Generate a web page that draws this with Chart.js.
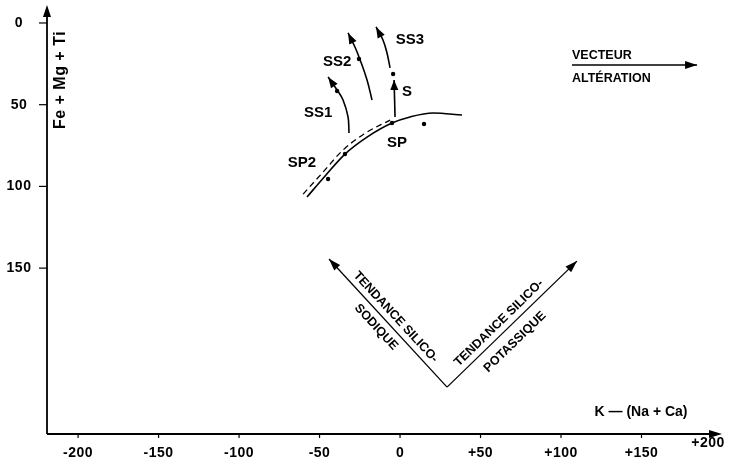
<!DOCTYPE html>
<html lang="fr">
<head>
    <meta charset="UTF-8">
    <title>Vecteur altération</title>
    <script src="https://cdn.jsdelivr.net/npm/chart.js"></script>
    <style>
        body { margin: 0; background: #fff; }
    </style>
</head>
<body>
    <canvas id="myChart" width="731" height="464"></canvas>
    <script>
        // axes
        const xTicks = [-200, -150, -100, -50, 0, 50, 100, 150, 200];
        const xTickLabels = ['-200', '-150', '-100', '-50', '0', '+50', '+100', '+150', '+200'];
        const yTicks = [0, 50, 100, 150];
        const yTickLabels = ['0', '50', '100', '150'];
        const xTitle = 'K \u2014 (Na + Ca)';
        const yTitle = 'Fe + Mg + Ti';

        // trend curve (solid) and parallel dashed one
        const trendCurve = [[-57.8, 106.5], [-46.0, 93.0], [-34.2, 80.2], [-20.5, 69.8], [-5.0, 61.2], [6.2, 57.5], [20.5, 55.1], [38.5, 56.3]];
        const trendDashed = [[-60.2, 104.7], [-47.8, 91.2], [-36.0, 78.3], [-22.4, 67.9], [-6.2, 59.4]];

        // samples
        const samples = [[-44.7, 95.5], [-34.2, 80.2], [-5.0, 61.2], [14.9, 61.8], [-39.1, 41.6], [-25.5, 22.0], [-4.3, 31.2]];

        // alteration arrows
        const ss1Path = [[-31.7, 67.3], [-32.3, 57.5], [-35.4, 47.1], [-39.1, 41.0], [-44.7, 33.0]];
        const ss2Path = [[-17.4, 47.1], [-20.5, 34.9], [-24.8, 22.6], [-28.0, 14.7], [-32.3, 6.1]];
        const ss3Path = [[-6.2, 27.5], [-8.1, 18.4], [-10.6, 10.4], [-14.9, 2.4]];
        const sPath = [[-3.1, 57.5], [-3.7, 34.9]];
        const sodiqueArm = [[29.2, 222.8], [-44.1, 144.4]];
        const potassiqueArm = [[29.2, 222.8], [109.9, 145.7]];
        const vecteurArrow = [[106.8, 25.7], [184.5, 25.7]];

        // labels
        const pointLabels = ['SS1', 'SS2', 'SS3', 'S', 'SP', 'SP2'];
        const pointLabelX = [-50.9, -39.1, 6.2, 4.3, -1.9, -60.9];
        const pointLabelY = [55.1, 23.9, 10.4, 42.2, 73.4, 85.7];

        const toXY = arr => arr.map(p => ({x: p[0], y: p[1]}));

        function lineSet(arr, opts) {
            return Object.assign({
                data: toXY(arr),
                showLine: true,
                borderColor: '#000',
                borderWidth: 1.6,
                pointRadius: 0,
                tension: 0.4,
                fill: false
            }, opts || {});
        }

        const annotate = {
            id: 'annotate',
            afterDatasetsDraw(chart) {
                const ctx = chart.ctx;
                const xs = chart.scales.x, ys = chart.scales.y;
                const X = v => xs.getPixelForValue(v);
                const Y = v => ys.getPixelForValue(v);
                const area = chart.chartArea;
                const font = (s) => 'bold ' + s + 'px "Liberation Sans", Arial, sans-serif';

                ctx.save();
                ctx.strokeStyle = '#000';
                ctx.fillStyle = '#000';
                ctx.lineWidth = 1.8;

                function head(x, y, px, py, len, w) {
                    const a = Math.atan2(y - py, x - px);
                    ctx.beginPath();
                    ctx.moveTo(x, y);
                    ctx.lineTo(x - len * Math.cos(a) + w * Math.sin(a), y - len * Math.sin(a) - w * Math.cos(a));
                    ctx.lineTo(x - len * Math.cos(a) - w * Math.sin(a), y - len * Math.sin(a) + w * Math.cos(a));
                    ctx.closePath();
                    ctx.fill();
                }

                // axes
                ctx.beginPath();
                ctx.moveTo(area.left, area.bottom);
                ctx.lineTo(area.left, area.top + 4);
                ctx.moveTo(area.left, area.bottom);
                ctx.lineTo(area.right - 4, area.bottom);
                ctx.stroke();
                head(area.left, area.top, area.left, area.top + 20, 12, 4);
                head(area.right, area.bottom, area.right - 20, area.bottom, 13, 4);

                // ticks
                ctx.lineWidth = 1.2;
                ctx.font = font(14);
                ctx.letterSpacing = '0.5px';
                ctx.textAlign = 'center';
                ctx.textBaseline = 'middle';
                yTicks.forEach((v, i) => {
                    ctx.beginPath();
                    ctx.moveTo(area.left - 8, Y(v));
                    ctx.lineTo(area.left, Y(v));
                    ctx.stroke();
                    ctx.fillText(yTickLabels[i], 19, Y(v));
                });
                xTicks.forEach((v, i) => {
                    const last = i === xTicks.length - 1;
                    if (!last) {
                        ctx.beginPath();
                        ctx.moveTo(X(v), area.bottom);
                        ctx.lineTo(X(v), area.bottom + 4);
                        ctx.stroke();
                    }
                    ctx.fillText(xTickLabels[i], last ? X(v) - 14 : X(v), last ? area.bottom + 9 : area.bottom + 19);
                });
                ctx.letterSpacing = '0px';

                // axis titles
                ctx.font = font(14);
                ctx.fillText(xTitle, X(149.7), Y(238));
                ctx.save();
                ctx.translate(X(-211), Y(34.9));
                ctx.rotate(-Math.PI / 2);
                ctx.font = font(16);
                ctx.letterSpacing = '0.5px';
                ctx.fillText(yTitle, 0, 0);
                ctx.restore();

                // arrowheads on arrow datasets
                chart.data.datasets.forEach((ds, i) => {
                    if (!ds.arrow) return;
                    const pts = chart.getDatasetMeta(i).data;
                    const a = pts[pts.length - 1], b = pts[pts.length - 2];
                    head(a.x, a.y, b.x, b.y, ds.arrow, 4);
                });

                // point labels
                ctx.font = font(15);
                pointLabels.forEach((t, i) => {
                    ctx.fillText(t, X(pointLabelX[i]), Y(pointLabelY[i]));
                });

                // vecteur alteration
                ctx.font = font(12.5);
                ctx.textAlign = 'left';
                ctx.fillText('VECTEUR', X(106.8), Y(20.2));
                ctx.fillText('ALT\u00c9RATION', X(106.8), Y(33.7));

                // tendance labels along the V
                ctx.textAlign = 'center';
                ctx.font = font(12.5);
                function rotText(t, vx, vy, ang) {
                    ctx.save();
                    ctx.translate(X(vx), Y(vy));
                    ctx.rotate(ang);
                    ctx.fillText(t, 0, 0);
                    ctx.restore();
                }
                const aL = Math.atan2(Y(sodiqueArm[0][1]) - Y(sodiqueArm[1][1]), X(sodiqueArm[0][0]) - X(sodiqueArm[1][0]));
                const aR = Math.atan2(Y(potassiqueArm[1][1]) - Y(potassiqueArm[0][1]), X(potassiqueArm[1][0]) - X(potassiqueArm[0][0]));
                rotText('TENDANCE SILICO-', -2.7, 180.0, aL);
                rotText('SODIQUE', -14.9, 186.1, aL);
                rotText('TENDANCE SILICO-', 61.5, 183.6, aR);
                rotText('POTASSIQUE', 71.4, 195.2, aR);

                ctx.restore();
            }
        };

        const ctx = document.getElementById('myChart').getContext('2d');
        const myChart = new Chart(ctx, {
            type: 'scatter',
            data: {
                datasets: [
                    lineSet(trendCurve, {cubicInterpolationMode: 'monotone'}),
                    lineSet(trendDashed, {cubicInterpolationMode: 'monotone', borderDash: [6, 4], borderWidth: 1.3}),
                    lineSet(ss1Path, {arrow: 11}),
                    lineSet(ss2Path, {arrow: 11}),
                    lineSet(ss3Path, {arrow: 11}),
                    lineSet(sPath, {arrow: 10, tension: 0}),
                    lineSet(sodiqueArm, {arrow: 12, tension: 0, borderWidth: 1.3}),
                    lineSet(potassiqueArm, {arrow: 12, tension: 0, borderWidth: 1.3}),
                    lineSet(vecteurArrow, {arrow: 12, tension: 0, borderWidth: 1.3}),
                    {
                        data: toXY(samples),
                        showLine: false,
                        pointRadius: 2.2,
                        pointBackgroundColor: '#000',
                        pointBorderWidth: 0
                    }
                ]
            },
            options: {
                responsive: false,
                animation: false,
                layout: { padding: { left: 47, right: 9, top: 5, bottom: 30 } },
                plugins: { legend: { display: false }, tooltip: { enabled: false } },
                scales: {
                    x: { type: 'linear', min: -219.3, max: 200, display: false },
                    y: { type: 'linear', reverse: true, min: -11, max: 251.5, display: false }
                }
            },
            plugins: [annotate]
        });
    </script>
</body>
</html>
